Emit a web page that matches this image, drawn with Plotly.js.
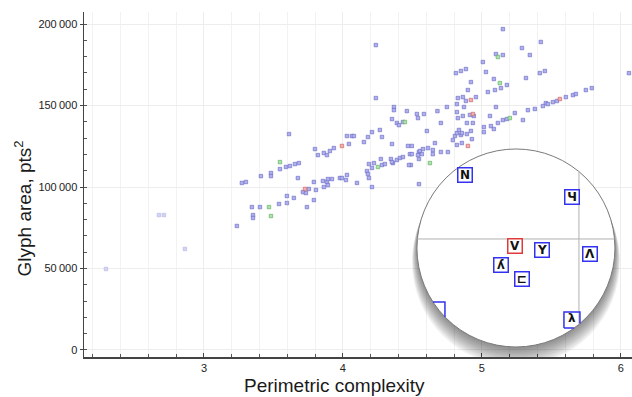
<!DOCTYPE html>
<html><head><meta charset="utf-8">
<script src="https://cdn.plot.ly/plotly-3.0.1.min.js"></script>
<style>html,body{margin:0;padding:0;background:#fff;overflow:hidden}</style>
</head><body><div id="chart" style="width:632px;height:397px"></div>
<script>
// ---- data ----
const blueX = [3.237,3.273,3.302,3.345,3.353,3.353,3.403,3.410,3.482,3.482,3.540,3.547,3.590,3.597,3.597,3.612,3.619,3.647,3.655,3.676,3.683,3.712,3.734,3.741,3.755,3.791,3.791,3.799,3.806,3.820,3.856,3.863,3.863,3.885,3.885,3.892,3.892,3.921,3.906,3.935,3.978,3.993,4.022,4.029,4.029,4.043,4.065,4.079,4.101,4.151,4.173,4.180,4.180,4.187,4.187,4.209,4.209,4.209,4.223,4.237,4.237,4.266,4.273,4.281,4.281,4.302,4.345,4.353,4.353,4.360,4.367,4.367,4.388,4.388,4.403,4.410,4.432,4.432,4.460,4.468,4.496,4.482,4.496,4.489,4.475,4.532,4.540,4.583,4.547,4.547,4.547,4.554,4.540,4.568,4.604,4.612,4.647,4.647,4.662,4.680,4.705,4.705,4.755,4.748,4.806,4.820,4.835,4.849,4.856,4.820,4.856,4.892,4.921,4.928,4.820,4.827,5.151,5.424,5.288,5.101,5.151,5.345,5.007,5.029,4.813,4.849,4.885,5.417,5.453,5.086,5.317,4.921,5.180,6.058,4.899,5.043,5.094,5.137,4.827,4.863,4.957,4.885,4.820,4.871,5.101,5.058,4.942,4.914,4.863,4.892,4.935,5.014,5.014,5.065,5.086,5.115,5.151,5.180,5.237,5.295,5.331,5.381,5.439,5.460,5.475,5.511,5.540,5.604,5.655,5.676,5.748,5.791,4.576,4.791,4.353];
const blueY = [76100,102500,103100,87700,82800,81000,87700,106700,108600,106700,89600,111000,112300,90200,94500,132500,112900,93300,114100,105500,114700,96900,96300,87700,98800,103100,92000,123300,98200,119600,103700,100000,120900,103100,119600,101200,104900,104900,122100,123900,105500,105500,104300,107400,131300,126400,131300,131300,102500,127600,109800,108000,130700,114100,105500,100000,111700,133700,114700,187100,154600,135000,117200,130700,113500,114100,117200,126400,141700,114700,149100,147200,116600,139300,138000,117800,139900,118400,146600,125200,125200,120200,120200,113500,113500,144800,142300,144800,121500,117200,101800,122100,119600,120200,134400,123900,122700,120200,127000,146600,139300,121500,121500,149100,131300,133100,135000,131900,133100,125800,127000,132500,134400,129400,146000,142300,196900,189000,185300,181600,181000,181000,176700,170600,169900,171200,172400,169900,171200,166300,166900,164400,162600,169900,159500,158300,159500,160700,154600,155200,155200,152800,150900,149100,149100,143600,143600,144200,143600,139300,139300,136800,133700,137400,135600,139300,141100,141700,145400,141100,147200,147900,149700,151500,150900,152100,152800,155200,156400,157100,159500,160700,123300,128800,115300];
const redX = [3.727,3.993,4.899,4.921,4.935,5.561];
const redY = [98800,125200,125200,153400,144800,154000];
const greenX = [3.468,3.482,3.547,4.252,4.446,4.626,5.115,5.129,5.201];
const greenY = [87700,82200,115300,112300,139900,114700,179800,163800,142300];
const paleX = [2.295,2.676,2.712,2.863];
const paleY = [49700,82800,82800,62000];
const yTickVals = [0,50000,100000,150000,200000];
const yTickText = ['0','50\u2009000','100\u2009000','150\u2009000','200\u2009000'];
const glyphText = ['N','Ч','V','Y','Λ','ʎ','⊏','λ'];

// ---- magnifier inset (decoration, pixel geometry around an anchor) ----
const MAG = {x: 5.245, y: 62600, r: 99};
function circ(dx, dy, r, fill, line, lw) {
  return {type:'circle', xref:'x', yref:'y', xsizemode:'pixel', ysizemode:'pixel',
    xanchor:MAG.x, yanchor:MAG.y, x0:dx-r, x1:dx+r, y0:dy-r, y1:dy+r,
    fillcolor:fill, line:{color:line, width:lw}, layer:'above'};
}
function pth(p, color, w) {
  return {type:'path', xref:'x', yref:'y', xsizemode:'pixel', ysizemode:'pixel',
    xanchor:MAG.x, yanchor:MAG.y, path:p, line:{color:color, width:w}, layer:'above'};
}
const shapes = [];
for (let k = 1; k <= 10; k++) shapes.push(circ(0, -k*1.4, MAG.r + k*0.5, 'rgba(0,0,0,0.05)', 'rgba(0,0,0,0)', 0));
shapes.push(circ(0, 0, MAG.r, '#ffffff', '#7a7a7a', 1));
shapes.push(pth('M-98.6,9 L98.6,9', '#b0b0b0', 1));
shapes.push(pth('M63,76.4 L63,-76.4', '#b0b0b0', 1));
shapes.push(pth('M-83,-54 L-71,-54 L-71,-69', '#3232f0', 1.5));
shapes.push(pth('M48,-80 L48,-64 L64,-64 L64,-75.5 M48,-80 L58,-80', '#3232f0', 1.5));

// glyph boxes: [dx, dy(up), glyph index, color]
const boxes = [[-51,73,0,'#3232f0'],[56,51,1,'#3232f0'],[-1,2,2,'#e03a3a'],[26,-2,3,'#3232f0'],[74,-6,4,'#3232f0'],[-15,-17,5,'#3232f0'],[6,-31,6,'#3232f0']];
const annotations = boxes.map(b => ({
  xref:'x', yref:'y', x:MAG.x, y:MAG.y, xshift:b[0], yshift:b[1], showarrow:false,
  text:'<b>'+glyphText[b[2]]+'</b>', font:{family:'DejaVu Sans', size:12, color:'#111'},
  width:12, height:12, borderpad:0.5, bordercolor:b[3], borderwidth:1.5, bgcolor:'#fff',
  xanchor:'center', yanchor:'middle', align:'center', valign:'middle'
}));
annotations.push({xref:'x', yref:'y', x:MAG.x, y:MAG.y, xshift:56, yshift:-70, showarrow:false,
  text:'<b>'+glyphText[7]+'</b>', font:{family:'DejaVu Sans', size:12, color:'#111'}});
// axis titles
annotations.push({xref:'paper', yref:'paper', x:0.458, y:-0.0812, showarrow:false, xanchor:'center', yanchor:'middle',
  text:'Perimetric complexity', font:{family:'Liberation Sans', size:19, color:'#1a1a1a'}});
annotations.push({xref:'paper', yref:'paper', x:-0.1113, y:0.4304, showarrow:false, xanchor:'center', yanchor:'middle', textangle:-90,
  text:'Glyph area, pts<sup><span style="font-size:13px">2</span></sup>', font:{family:'Liberation Sans', size:19, color:'#1a1a1a'}});

const mk = (fill, line) => ({symbol:'square', size:3.5, color:fill, line:{color:line, width:0.6}});
const traces = [
  {x:paleX, y:paleY, type:'scatter', mode:'markers', marker:mk('#d4d4f4','#b4b4e6'), hoverinfo:'x+y'},
  {x:blueX, y:blueY, type:'scatter', mode:'markers', marker:mk('#b0b0ec','#6464c4'), hoverinfo:'x+y'},
  {x:redX, y:redY, type:'scatter', mode:'markers', marker:mk('#eeb0b0','#cc5858'), hoverinfo:'x+y'},
  {x:greenX, y:greenY, type:'scatter', mode:'markers', marker:mk('#b0e0b0','#52ac52'), hoverinfo:'x+y'}
];

const layout = {
  width:632, height:397, showlegend:false,
  margin:{l:84, r:0, t:12, b:40, pad:0},
  paper_bgcolor:'#fff', plot_bgcolor:'#fff',
  font:{family:'Liberation Sans', size:11, color:'#333'},
  xaxis:{range:[2.137, 6.08], tick0:0, dtick:1, ticks:'inside', ticklen:4, tickcolor:'#444',
    showgrid:true, gridcolor:'#ededed', zeroline:false, showline:true, linecolor:'#444', linewidth:1.5,
    tickfont:{size:11, color:'#222'},
    minor:{tick0:0, dtick:0.2, ticks:'inside', ticklen:3, tickcolor:'#555', showgrid:true, gridcolor:'#f2f2f2'}},
  yaxis:{range:[-4300, 207400], tickmode:'array', tickvals:yTickVals, ticktext:yTickText, ticks:'outside', ticklen:3, tickcolor:'#444',
    showgrid:true, gridcolor:'#ededed', zeroline:false, showline:true, linecolor:'#444', linewidth:1.5,
    tickfont:{size:11, color:'#222'},
    minor:{tick0:0, dtick:10000, ticks:'inside', ticklen:3, tickcolor:'#555', showgrid:false}},
  shapes:shapes, annotations:annotations
};
Plotly.newPlot('chart', traces, layout, {displayModeBar:false, staticPlot:true});
</script></body></html>
